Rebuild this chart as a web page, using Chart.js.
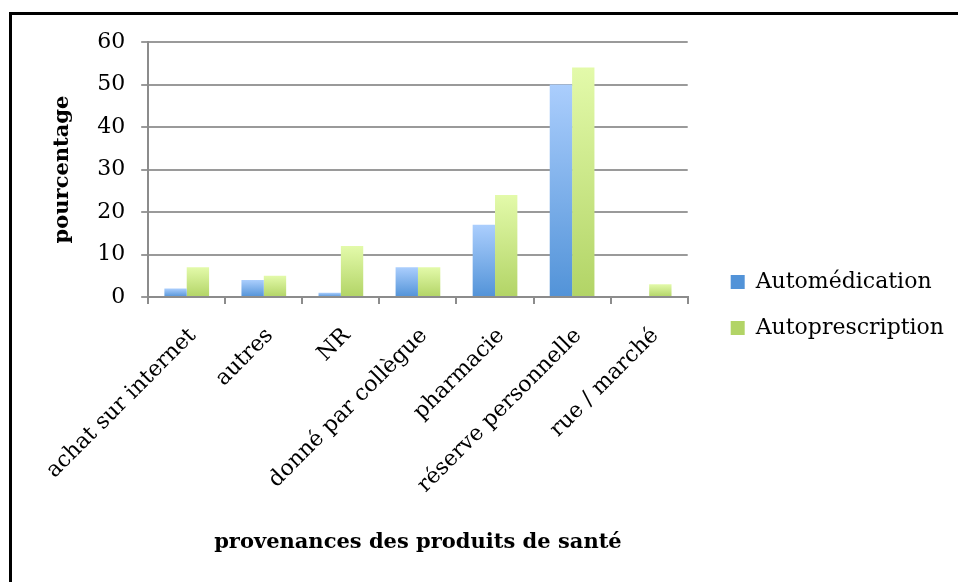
<!DOCTYPE html>
<html>
<head>
<meta charset="utf-8">
<script src="https://cdn.jsdelivr.net/npm/chart.js@4/dist/chart.umd.min.js"></script>
<style>
  html, body { margin: 0; padding: 0; background: #fff; overflow: hidden; }
  #wrap { position: absolute; left: 0; top: 0; width: 958px; height: 582px; }
  #frame { position: absolute; left: 9px; top: 12px; width: 1200px; height: 1200px; border: 3px solid #000; }
</style>
</head>
<body>
<div id="frame"></div>
<div id="wrap"><canvas id="myBarChart" width="958" height="582"></canvas></div>
<script>
// provenances des produits de santé (%)
const categories = ['achat sur internet', 'autres', 'NR', 'donné par collègue', 'pharmacie', 'réserve personnelle', 'rue / marché'];
const automedication = [2, 4, 1, 7, 17, 50, 0];
const autoprescription = [7, 5, 12, 7, 24, 54, 3];
const yTicks = [0, 10, 20, 30, 40, 50, 60];

const serif = "'DejaVu Serif', 'Liberation Serif', serif";
const blueFill = ['#abcefd', '#5293d8'];
const greenFill = ['#e3faaa', '#b2d466'];

// gradient for each bar, light on top and darker at the base
function barGradient(colors) {
    return function(context) {
        const chart = context.chart;
        const y = chart.scales.y;
        if (!chart.chartArea || !y || context.raw === undefined) return colors[1];
        const yTop = y.getPixelForValue(context.raw);
        const yBase = y.getPixelForValue(0);
        if (yBase - yTop < 1) return colors[1];
        const g = chart.ctx.createLinearGradient(0, yTop, 0, yBase);
        g.addColorStop(0, colors[0]);
        g.addColorStop(1, colors[1]);
        return g;
    };
}

const ctx = document.getElementById('myBarChart').getContext('2d');
new Chart(ctx, {
    type: 'bar',
    data: {
        labels: categories,
        datasets: [{
            label: 'Automédication',
            data: automedication,
            backgroundColor: barGradient(blueFill),
            categoryPercentage: 0.58,
            barPercentage: 1.0
        }, {
            label: 'Autoprescription',
            data: autoprescription,
            backgroundColor: barGradient(greenFill),
            categoryPercentage: 0.58,
            barPercentage: 1.0
        }]
    },
    options: {
        responsive: false,
        animation: false,
        layout: { padding: { top: 42, left: 46, right: 4, bottom: 14 } },
        plugins: {
            legend: {
                position: 'right',
                maxWidth: 260,
                labels: {
                    boxWidth: 14,
                    boxHeight: 14,
                    padding: 24,
                    color: '#000',
                    font: { family: serif, size: 22 },
                    generateLabels: function(chart) {
                        const fills = [blueFill, greenFill];
                        return chart.data.datasets.map((ds, i) => ({
                            text: ds.label,
                            fillStyle: fills[i][1],
                            strokeStyle: 'rgba(0,0,0,0)',
                            lineWidth: 0,
                            datasetIndex: i,
                            fontColor: '#000'
                        }));
                    }
                }
            },
            tooltip: { enabled: false }
        },
        scales: {
            x: {
                grid: { display: true, drawOnChartArea: false, drawTicks: true, tickLength: 7, color: '#8c8c8c', lineWidth: 2, offset: true },
                border: { color: '#8c8c8c', width: 2 },
                ticks: {
                    color: '#000',
                    font: { family: serif, size: 22 },
                    minRotation: 45,
                    maxRotation: 45,
                    autoSkip: false,
                    padding: 19,
                    labelOffset: 6
                },
                title: {
                    display: true,
                    text: 'provenances des produits de santé',
                    color: '#000',
                    font: { family: serif, size: 21, weight: 'bold' },
                    padding: { top: 20, bottom: 13 }
                },
                // the rotated labels need more room than the default half-height cap
                afterFit: function(axis) { axis.height = 271; }
            },
            y: {
                min: 0,
                max: 60,
                afterBuildTicks: function(axis) {
                    axis.ticks = yTicks.map(v => ({ value: v }));
                },
                grid: { color: '#9a9a9a', lineWidth: 2, tickLength: 7 },
                border: { color: '#8c8c8c', width: 2 },
                ticks: {
                    color: '#000',
                    font: { family: serif, size: 22 },
                    padding: 16
                },
                title: {
                    display: true,
                    text: 'pourcentage',
                    color: '#000',
                    font: { family: serif, size: 21, weight: 'bold' },
                    padding: { bottom: 6 }
                }
            },
            // empty axis that only keeps a gap between the plot and the legend
            gap: {
                type: 'linear',
                position: 'right',
                display: true,
                grid: { display: false },
                border: { display: false },
                ticks: { display: false },
                afterFit: function(axis) { axis.width = 19; }
            }
        }
    }
});
</script>
</body>
</html>
